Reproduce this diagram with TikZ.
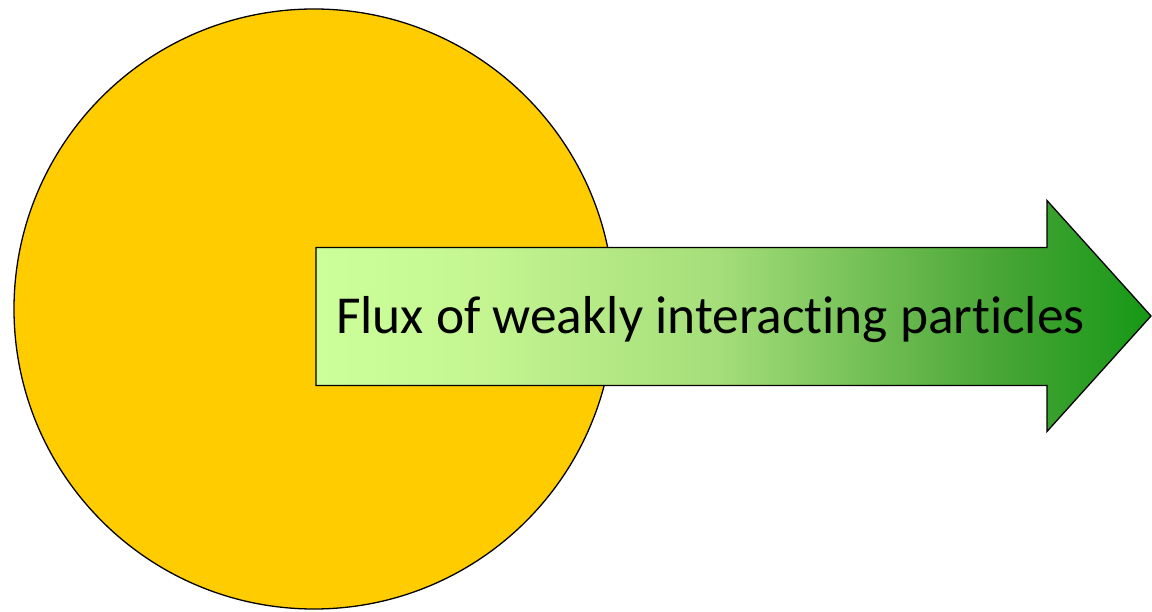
\documentclass[tikz,border=0pt]{standalone}
\usepackage{fontspec}
\setmainfont{Carlito}[Ligatures={NoCommon}]
\definecolor{fluxA}{RGB}{204,255,153}
\definecolor{fluxB}{RGB}{196,245,145}
\definecolor{fluxC}{RGB}{165,222,122}
\definecolor{fluxD}{RGB}{110,188,82}
\definecolor{fluxE}{RGB}{72,165,54}
\definecolor{fluxF}{RGB}{22,152,22}
\definecolor{sunyellow}{RGB}{255,204,0}
\pgfdeclarehorizontalshading{fluxshade}{100bp}{%
  color(0bp)=(fluxA); color(25bp)=(fluxA); color(35bp)=(fluxB);
  color(49bp)=(fluxC); color(59bp)=(fluxD); color(66bp)=(fluxE);
  color(75bp)=(fluxF); color(100bp)=(fluxF)}
\tikzset{
  outline/.style={draw=black, line width=1.3pt, line join=miter},
  label/.style={font=\fontsize{53.4}{60}\selectfont, inner sep=0pt}
}
\begin{document}
\begin{tikzpicture}[x=1pt,y=1pt]
\useasboundingbox (0,0) rectangle (1152,611);
\node[outline, circle, fill=sunyellow, minimum size=600pt, inner sep=0pt] (sun) at (314,302) {};
\coordinate (a1) at (316,363.5);
\coordinate (a2) at (1047,363.5);
\coordinate (a3) at (1047,410.5);
\coordinate (tip) at (1151,295);
\coordinate (a5) at (1047,179.5);
\coordinate (a6) at (1047,225.5);
\coordinate (a7) at (316,225.5);
\draw[outline, shading=fluxshade] (a1) -- (a2) -- (a3) -- (tip) -- (a5) -- (a6) -- (a7) -- cycle;
\node[label, anchor=base] (flux) at (710.5,277) {Flux of weakly interacting particles};
\end{tikzpicture}
\end{document}
